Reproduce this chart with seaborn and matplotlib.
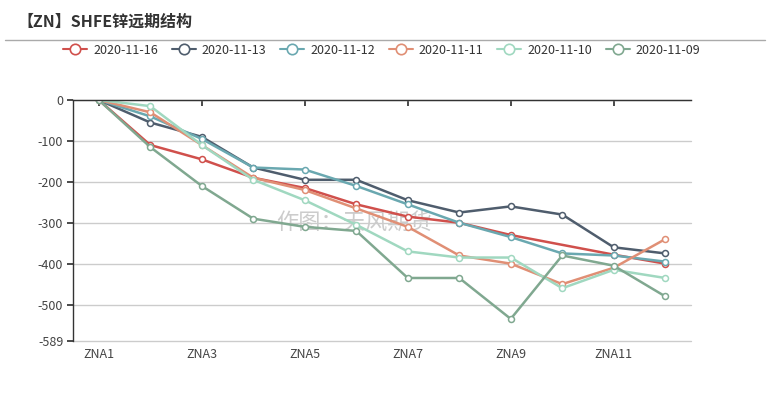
import numpy as np
import pandas as pd
import matplotlib
matplotlib.use("Agg")
import matplotlib.pyplot as plt
from matplotlib.lines import Line2D
import seaborn as sns

# contracts on the x axis
contracts = [f"ZNA{i}" for i in range(1, 13)]

# spreads vs. ZNA1 for each trade date (None = no point)
s_1116 = [0, -110, -145, -190, -215, -255, -285, -300, -330, None, -378, -400]
s_1113 = [0, -55, -90, -165, -195, -195, -245, -275, -260, -280, -360, -375]
s_1112 = [0, -40, -95, -165, -170, -210, -255, -300, -335, -375, -380, -395]
s_1111 = [0, -30, -110, -190, -220, -265, -310, -380, -400, -450, -410, -340]
s_1110 = [0, -15, -110, -195, -245, -305, -370, -385, -385, -460, -415, -435]
s_1109 = [0, -115, -210, -290, -310, -320, -435, -435, -535, -380, -405, -480]

dates = ["2020-11-16", "2020-11-13", "2020-11-12", "2020-11-11", "2020-11-10", "2020-11-09"]
series = [s_1116, s_1113, s_1112, s_1111, s_1110, s_1109]
colors = ["#d0504c", "#4f5d6d", "#6aa8b0", "#e08f75", "#a0d8c0", "#80a890"]

y_ticks = [0, -100, -200, -300, -400, -500, -589]


def main():
    rows = []
    for d, vals in zip(dates, series):
        for i, v in enumerate(vals):
            rows.append({"pos": i, "date": d, "value": v})
    df = pd.DataFrame(rows).dropna()

    sns.set_theme(style="white")
    plt.rcParams["font.family"] = ["Noto Sans CJK SC", "DejaVu Sans"]

    fig = plt.figure(figsize=(7.67, 3.93), dpi=100)
    ax = fig.add_axes([73 / 767, 1 - 341 / 393, 618 / 767, 241 / 393])

    sns.lineplot(data=df, x="pos", y="value", hue="date", hue_order=dates,
                 palette=colors, marker="o", markersize=4.3, linewidth=1.8,
                 legend=False, ax=ax)
    for line in ax.lines:
        line.set_markerfacecolor("white")
        line.set_markeredgecolor(line.get_color())
        line.set_markeredgewidth(1.1)

    ax.set_xlim(-0.5, 11.5)
    ax.set_ylim(-589, 0)
    ax.set_yticks(y_ticks)
    ax.set_yticklabels([str(v) for v in y_ticks])
    ax.set_xticks(range(0, 12, 2))
    ax.set_xticklabels(contracts[::2])
    ax.set_xlabel("")
    ax.set_ylabel("")

    ax.grid(axis="y", color="#cccccc", linewidth=1)
    for g in ax.yaxis.get_gridlines():
        g.set_clip_on(False)
    ax.set_axisbelow(True)
    for side in ["right", "bottom"]:
        ax.spines[side].set_visible(False)
    for side in ["top", "left"]:
        ax.spines[side].set_color("#333333")
        ax.spines[side].set_linewidth(1)

    ax.tick_params(axis="x", bottom=False, top=True, labelbottom=True, labeltop=False,
                   direction="in", length=4, color="#333333", labelsize=9,
                   labelcolor="#444444", pad=5)
    ax.tick_params(axis="y", left=True, direction="out", length=4, color="#333333",
                   labelsize=9, labelcolor="#444444", pad=3)

    # watermark
    ax.text(0.455, 0.49, "作图：天风期货", transform=ax.transAxes, fontsize=16,
            color="#cccccc", ha="center", va="center", zorder=0)

    # title + separator
    fig.text(17 / 767, 1 - 22 / 393, "【ZN】SHFE锌远期结构", fontsize=11.5,
             fontweight="bold", color="#333333", ha="left", va="center")
    fig.add_artist(Line2D([5 / 767, 765 / 767], [1 - 40 / 393, 1 - 40 / 393],
                          color="#aaaaaa", linewidth=1))

    handles = [Line2D([], [], color=c, linewidth=1.5, marker="o", markersize=7.5,
                      markerfacecolor="white", markeredgecolor=c, markeredgewidth=1.2)
               for c in colors]
    fig.legend(handles, dates, loc="center", bbox_to_anchor=(0.498, 1 - 50 / 393),
               ncol=6, frameon=False, fontsize=9, handlelength=1.9,
               handletextpad=0.5, columnspacing=1.1, labelcolor="#333333")

    fig.savefig("out.png", dpi=100)


if __name__ == "__main__":
    main()
